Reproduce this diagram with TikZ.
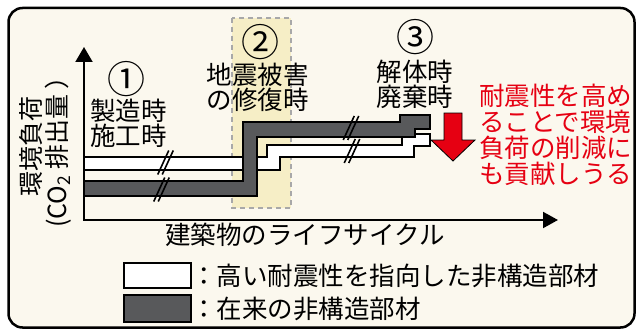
\documentclass[tikz,border=0pt]{standalone}
\usepackage{fontspec}
\setmainfont{Noto Sans CJK JP}
\usetikzlibrary{arrows.meta}
\definecolor{cream}{HTML}{FBF8EE}
\definecolor{paleyellow}{HTML}{F6EEC6}
\definecolor{dashgray}{HTML}{A8A8A8}
\definecolor{bandgray}{HTML}{58595B}
\definecolor{myred}{HTML}{E60012}
\begin{document}
\begin{tikzpicture}[x=1pt,y=-1pt,
  txt/.style={inner sep=0pt, align=center, font=\fontsize{25.5}{25}\selectfont},
  circnum/.style={inner sep=0pt, font=\fontsize{38}{38}\selectfont},
  darkout/.style={line width=16.5pt, draw=black, line join=miter},
  darkin/.style={line width=12.5pt, draw=bandgray, line join=miter},
  whiteout/.style={line width=14.5pt, draw=black, line join=miter},
  whitein/.style={line width=10.5pt, draw=white, line join=miter},
  breakmark/.style={line width=1.6pt, draw=black},
  axis/.style={line width=2pt, line join=miter},
  legbox/.style={line width=2.5pt, draw=black}
]
\useasboundingbox (0,0) rectangle (637,329);
% frame
\draw[line width=2.5pt, fill=cream, rounded corners=14pt] (8.5,8) rectangle (634.5,327.5);
% highlighted repair period
\draw[fill=paleyellow, draw=dashgray, line width=1.8pt, dash pattern=on 5pt off 4pt] (232,18) rectangle (291,208);
% white band (high seismic performance)
\draw[whiteout] (85,163.5) -- (273.5,163.5) -- (273.5,151) -- (408,151) -- (408,140) -- (430.5,140);
\draw[whitein] (85,163.5) -- (273.5,163.5) -- (273.5,151) -- (408,151) -- (408,140) -- (428.5,140);
% dark band (conventional)
\draw[darkout] (85,188.5) -- (250,188.5) -- (250,129.5) -- (407.5,129.5) -- (407.5,122) -- (430.5,122);
\draw[darkin] (85,188.5) -- (250,188.5) -- (250,129.5) -- (407.5,129.5) -- (407.5,122) -- (428.5,122);
% break marks
\foreach \cx/\cy in {165.5/162.5, 161.5/189.5, 351/128, 352/151}{
  \draw[breakmark] (\cx-7.75,\cy+12) -- (\cx+3.25,\cy-12);
  \draw[breakmark] (\cx-3.25,\cy+12) -- (\cx+7.75,\cy-12);
}
% axes
\draw[axis, {Triangle[width=17pt,length=15pt]}-{Triangle[width=16pt,length=15pt]}] (84,47) -- (84,220) -- (558,220);
% red arrow
\draw[fill=myred, draw=black, line width=0.8pt, line join=miter] (444,113) -- (462,113) -- (462,140) -- (475,140) -- (453,161) -- (431,140) -- (444,140) -- cycle;
% labels
\node[circnum] (c1) at (126,79) {①};
\node[circnum] (c2) at (260,42) {②};
\node[circnum] (c3) at (415,37) {③};
\node[txt] (p1) at (128.5,123.5) {製造時\\施工時};
\node[txt] (p2) at (257.5,87.5) {地震被害\\の修復時};
\node[txt] (p3) at (415,84.5) {解体時\\廃棄時};
\node[txt, align=left, anchor=west, text=myred, font=\fontsize{25.5}{26}\selectfont] (red) at (479,135) {耐震性を高め\\ることで環境\\負荷の削減に\\も貢献しうる};
\node[txt] (xl) at (305,235) {建築物のライフサイクル};
\node[txt, rotate=90, font=\fontsize{25}{26}\selectfont] (yl) at (45,146) {環境負荷\\(CO\textsubscript{2} 排出量 ）};
% legend
\draw[legbox, fill=white] (124,263) rectangle (191,288);
\draw[legbox, fill=bandgray] (124,295) rectangle (191,322);
\node[txt, anchor=west] (l1) at (191,275.5) {：高い耐震性を指向した非構造部材};
\node[txt, anchor=west] (l2) at (191,308.5) {：在来の非構造部材};
\end{tikzpicture}
\end{document}
